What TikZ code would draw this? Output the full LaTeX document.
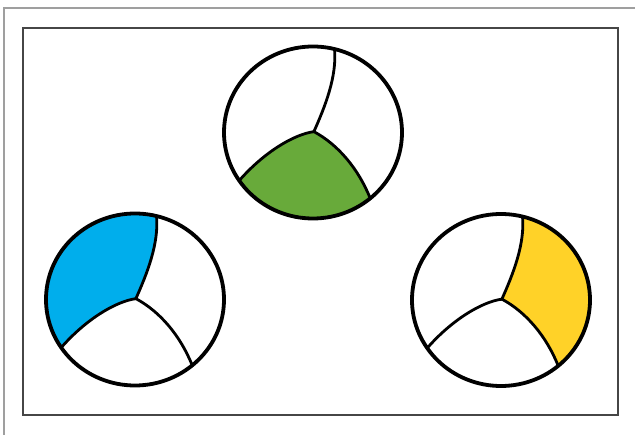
\documentclass[tikz,border=0pt]{standalone}
\definecolor{sliceblue}{RGB}{0,174,236}
\definecolor{slicegreen}{RGB}{104,170,58}
\definecolor{sliceyellow}{RGB}{255,210,40}
\tikzset{
  rim/.style={line width=3.8pt},
  cut/.style={line width=2.8pt,line cap=round}
}
\begin{document}
\begin{tikzpicture}[x=1pt,y=1pt]
  \useasboundingbox (0,0) rectangle (635,-435);
  \fill[white] (0,0) rectangle (635,-435);
  % frames
  \draw[gray!75,line width=1.3pt] (4,-8) rectangle (640,-440);
  \draw[gray!55!black,line width=1.6pt] (23,-28) rectangle (618,-415);
  % coloured parts
  \begin{scope}[shift={(135,-299.5)},xscale=89,yscale=86]
    \fill[sliceblue] (0.01,0.01) .. controls (0.135,0.30) and (0.27,0.65) .. (76:1)
      arc[start angle=76,end angle=214,radius=1]
      .. controls (-0.56,-0.24) and (-0.225,-0.024) .. (0.01,0.01) -- cycle;
  \end{scope}
  \begin{scope}[shift={(313,-132.5)},xscale=89,yscale=86]
    \fill[slicegreen] (0.01,0.01) .. controls (-0.225,-0.024) and (-0.56,-0.24) .. (214:1)
      arc[start angle=214,end angle=310,radius=1]
      .. controls (0.51,-0.42) and (0.28,-0.14) .. (0.01,0.01) -- cycle;
  \end{scope}
  \begin{scope}[shift={(501,-300)},xscale=89,yscale=86]
    \fill[sliceyellow] (0.01,0.01) .. controls (0.28,-0.14) and (0.51,-0.42) .. (310:1)
      arc[start angle=310,end angle=436,radius=1]
      .. controls (0.27,0.65) and (0.135,0.30) .. (0.01,0.01) -- cycle;
  \end{scope}
  % outlines
  \foreach \cx/\cy in {135/-299.5,313/-132.5,501/-300} {
    \begin{scope}[shift={(\cx,\cy)},xscale=89,yscale=86]
      \coordinate (mid) at (0.01,0.01);
      \draw[cut] (mid) .. controls (0.135,0.30) and (0.27,0.65) .. (76:1);
      \draw[cut] (mid) .. controls (-0.225,-0.024) and (-0.56,-0.24) .. (214:1);
      \draw[cut] (mid) .. controls (0.28,-0.14) and (0.51,-0.42) .. (310:1);
      \draw[rim] (0,0) circle (1);
    \end{scope}
  }
\end{tikzpicture}
\end{document}
